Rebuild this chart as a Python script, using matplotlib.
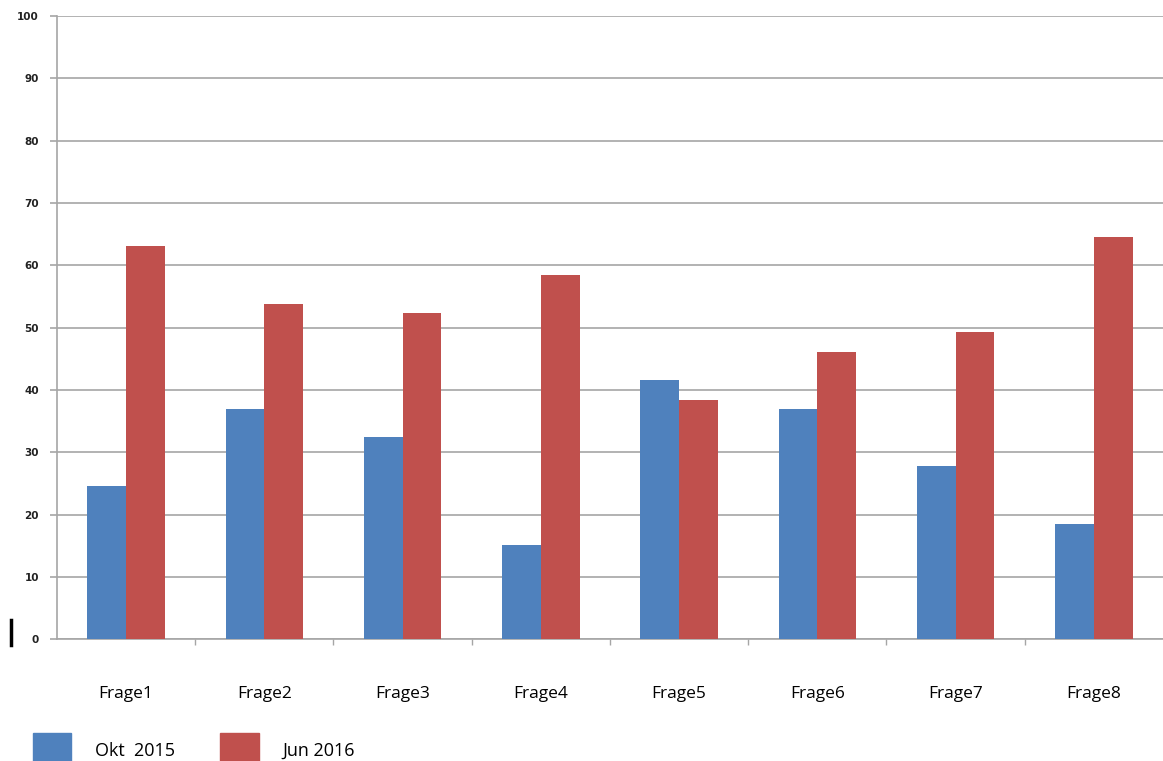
import numpy as np
import matplotlib.pyplot as plt
from matplotlib.patches import Patch
from matplotlib.lines import Line2D

fragen = ["Frage1", "Frage2", "Frage3", "Frage4", "Frage5", "Frage6", "Frage7", "Frage8"]
okt_2015 = [24.6, 36.9, 32.4, 15.2, 41.6, 36.9, 27.8, 18.5]
jun_2016 = [63.1, 53.8, 52.3, 58.4, 38.4, 46.1, 49.3, 64.5]

BLUE = "#4f81bd"
RED = "#c0504d"
GRID = "#a6a6a6"

fig = plt.figure(figsize=(11.63, 7.61), dpi=100)
ax = fig.add_axes([0.049, 0.160, 0.951, 0.819])

x = np.arange(len(fragen))
w = 0.28
ax.bar(x - w / 2, okt_2015, w, color=BLUE, zorder=3)
ax.bar(x + w / 2, jun_2016, w, color=RED, zorder=3)

ax.set_xlim(-0.5, len(fragen) - 0.5)
ax.set_ylim(0, 100)
ax.set_yticks(range(0, 101, 10))
ax.yaxis.grid(True, color=GRID, linewidth=1.2, zorder=0)

for side in ["top", "right"]:
    ax.spines[side].set_visible(False)
for side in ["left", "bottom"]:
    ax.spines[side].set_color(GRID)
    ax.spines[side].set_linewidth(1.2)

ax.tick_params(axis="y", length=5, width=1.2, color=GRID, labelsize=7.5,
               labelcolor="#222222", pad=8)
for lbl in ax.get_yticklabels():
    lbl.set_fontweight("semibold")
ax.set_xticks(x)
ax.set_xticklabels(fragen, fontsize=12.5, family="Open Sans")
ax.tick_params(axis="x", length=0, pad=34)
ax.set_xticks(np.arange(0.5, len(fragen) - 0.5, 1), minor=True)
ax.tick_params(axis="x", which="minor", length=4, width=1, color=GRID)

handles = [Patch(color=BLUE, label="Okt  2015"), Patch(color=RED, label="Jun 2016")]
fig.legend(handles=handles, loc="center left", bbox_to_anchor=(0.014, 0.014),
           ncol=2, frameon=False, handlelength=2.15, handleheight=2.6,
           handletextpad=1.3, columnspacing=2.5, prop={"family": "Open Sans", "size": 13})

# cursor mark left of the zero label
fig.add_artist(Line2D([0.0095, 0.0095], [0.152, 0.185], color="black", linewidth=2.5))

fig.savefig("out.png", dpi=100)
